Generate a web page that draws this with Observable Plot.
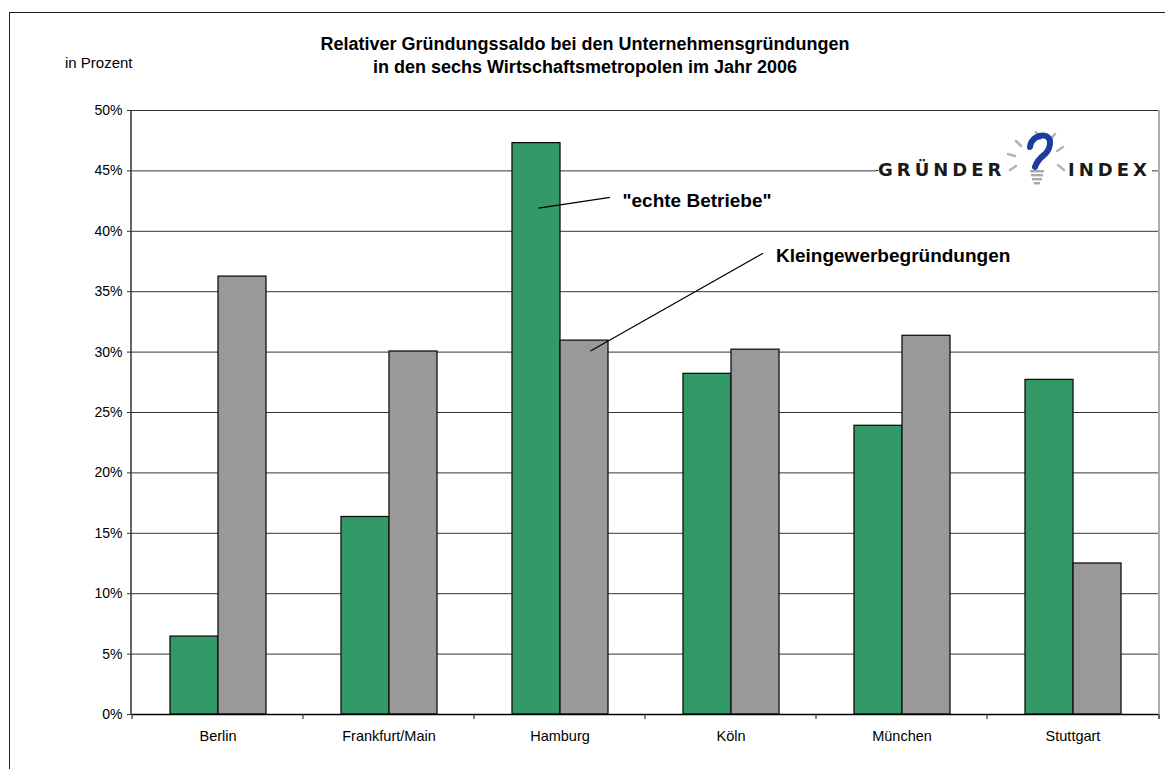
<!DOCTYPE html>
<html>
<head>
<meta charset="utf-8">
<script src="https://cdn.jsdelivr.net/npm/d3@7"></script>
<script src="https://cdn.jsdelivr.net/npm/@observablehq/plot@0.6"></script>
<style>
  html, body { margin: 0; padding: 0; background: #fff; }
  body { width: 1165px; height: 769px; overflow: hidden; position: relative;
         font-family: "Liberation Sans", Arial, Helvetica, sans-serif; }
  #frame { position: absolute; left: 9px; top: 12px; width: 1170px; height: 780px;
           border: 1.5px solid #222; box-sizing: border-box; }
  #title { position: absolute; left: 235px; width: 700px; top: 33px; text-align: center;
           font-size: 18px; font-weight: bold; line-height: 23px; color: #000; }
  #unit { position: absolute; left: 65px; top: 55px; font-size: 15px; line-height: 16px; color: #000; }
  #chart { position: absolute; left: 0; top: 0; }
  #chart svg { overflow: visible; }
</style>
</head>
<body>
<div id="frame"></div>
<div id="chart"></div>
<div id="title">Relativer Gründungssaldo bei den Unternehmensgründungen<br>in den sechs Wirtschaftsmetropolen im Jahr 2006</div>
<div id="unit">in Prozent</div>
<script>
// ---- data ----
const cities = ["Berlin", "Frankfurt/Main", "Hamburg", "Köln", "München", "Stuttgart"];
const seriesNames = ['"echte Betriebe"', "Kleingewerbegründungen"];
const echteBetriebe = [6.45, 16.35, 47.3, 28.2, 23.9, 27.7];
const kleingewerbe = [36.25, 30.05, 30.95, 30.2, 31.35, 12.5];
const yTicks = [0, 5, 10, 15, 20, 25, 30, 35, 40, 45, 50];
const seriesColors = ["#339966", "#999999"];

const data = cities.flatMap((c, i) => [
  {city: c, series: seriesNames[0], value: echteBetriebe[i]},
  {city: c, series: seriesNames[1], value: kleingewerbe[i]}
]);

const W = 1165, H = 769;
const chart = Plot.plot({
  width: W, height: H,
  marginLeft: 131, marginRight: 6, marginTop: 110, marginBottom: 55,
  style: {fontFamily: '"Liberation Sans", Arial, sans-serif', fontSize: "14px", color: "#000", background: "transparent"},
  fx: {domain: cities, padding: 0, label: null, axis: null},
  x: {domain: seriesNames, paddingInner: 0, paddingOuter: 0.75, axis: null},
  y: {domain: [0, 50], axis: null},
  color: {domain: seriesNames, range: seriesColors},
  marks: [
    Plot.ruleY(yTicks.slice(1), {stroke: "#000", strokeWidth: 1, strokeOpacity: 0.8}),
    Plot.barY(data, {fx: "city", x: "series", y: "value", fill: "series", stroke: "#111", strokeWidth: 1.3}),
    Plot.ruleY([0], {stroke: "#000", strokeWidth: 1.5}),
    Plot.axisY({ticks: yTicks, tickFormat: d => d + "%", tickSize: 5, tickPadding: 5, fontSize: 14, label: null, stroke: "#333"}),
    Plot.axisFx({anchor: "bottom", tickSize: 0, tickPadding: 16, fontSize: 14.5, label: null})
  ]
});
document.getElementById("chart").appendChild(chart);

// ---- decorations derived from the scales ----
const svg = d3.select(chart);
const fx = chart.scale("fx"), xs = chart.scale("x"), ys = chart.scale("y");
const left = fx.range[0], right = fx.range[1];
const y0 = ys.apply(0), yTop = ys.apply(50);
const g = svg.append("g");
// axis line and right border
g.append("line").attr("x1", left).attr("x2", left).attr("y1", yTop).attr("y2", y0 + 0.5).attr("stroke", "#333").attr("stroke-width", 1.5);
g.append("line").attr("x1", right).attr("x2", right).attr("y1", yTop).attr("y2", y0 + 5).attr("stroke", "#777").attr("stroke-width", 1.2);
// category boundary ticks
const bounds = cities.map(c => fx.apply(c)).concat([right]);
g.selectAll(".bt").data(bounds).join("line")
  .attr("x1", d => d).attr("x2", d => d).attr("y1", y0).attr("y2", y0 + 5)
  .attr("stroke", "#333").attr("stroke-width", 1.2);

// annotations (series labels) in Hamburg group
const hb = fx.apply("Hamburg");
const bw = xs.bandwidth;
const greenC = hb + xs.apply(seriesNames[0]) - left + bw / 2;
const grayC = hb + xs.apply(seriesNames[1]) - left + bw / 2;
const ann = svg.append("g").attr("font-family", '"Liberation Sans", Arial, sans-serif')
  .attr("font-weight", "bold").attr("font-size", 19).attr("text-anchor", "start").attr("fill", "#000");
ann.append("line").attr("x1", greenC + 2.5).attr("y1", ys.apply(41.87)).attr("x2", greenC + 74).attr("y2", ys.apply(42.77)).attr("stroke", "#000").attr("stroke-width", 1.2);
ann.append("text").attr("x", greenC + 86.5).attr("y", ys.apply(42.0)).text(seriesNames[0]);
ann.append("line").attr("x1", grayC + 6.5).attr("y1", ys.apply(30.05)).attr("x2", grayC + 179).attr("y2", ys.apply(38.14)).attr("stroke", "#000").attr("stroke-width", 1.2);
ann.append("text").attr("x", grayC + 192).attr("y", ys.apply(37.43)).text(seriesNames[1]);

// GRÜNDER INDEX logo
const logo = svg.append("g");
logo.append("rect").attr("x", 876).attr("y", 132).attr("width", 276).attr("height", 62).attr("fill", "#fff");
const lt = logo.append("g").attr("font-family", '"DejaVu Sans", Verdana, sans-serif').attr("font-weight", "bold")
  .attr("font-size", 18).attr("fill", "#1a1a1a").attr("letter-spacing", 4).attr("text-anchor", "start");
lt.append("text").attr("x", 878).attr("y", 176).text("GRÜNDER");
lt.append("text").attr("x", 1068).attr("y", 176).text("INDEX");
const rays = [[1036,132,1040,139],[1016,141,1021,146],[1008,154,1015,156],[1010,170,1016,166],[1055,134,1050,140],[1063,147,1057,151],[1064,170,1058,165]];
logo.selectAll(".ray").data(rays).join("line")
  .attr("x1", d => d[0]).attr("y1", d => d[1]).attr("x2", d => d[2]).attr("y2", d => d[3])
  .attr("stroke", "#b4b4b4").attr("stroke-width", 2.5).attr("stroke-linecap", "round");
logo.append("path").attr("d", "M1030,147 C1031,138 1040,134 1046,136 C1053,139 1050,150 1044,155 C1040,158 1037,161 1035,167")
  .attr("fill", "none").attr("stroke", "#1c3d9b").attr("stroke-width", 6).attr("stroke-linecap", "round");
[[1030,170,14],[1031,174,12],[1032,178,10],[1034,182,6]].forEach(([x, y, w]) => {
  logo.append("rect").attr("x", x).attr("y", y).attr("width", w).attr("height", 2.4).attr("fill", "#a8a8a8");
});
// connect the 45% gridline to the logo text like the reference
logo.append("line").attr("x1", 876).attr("x2", 878).attr("y1", ys.apply(45)).attr("y2", ys.apply(45)).attr("stroke", "#000");
</script>
</body>
</html>
